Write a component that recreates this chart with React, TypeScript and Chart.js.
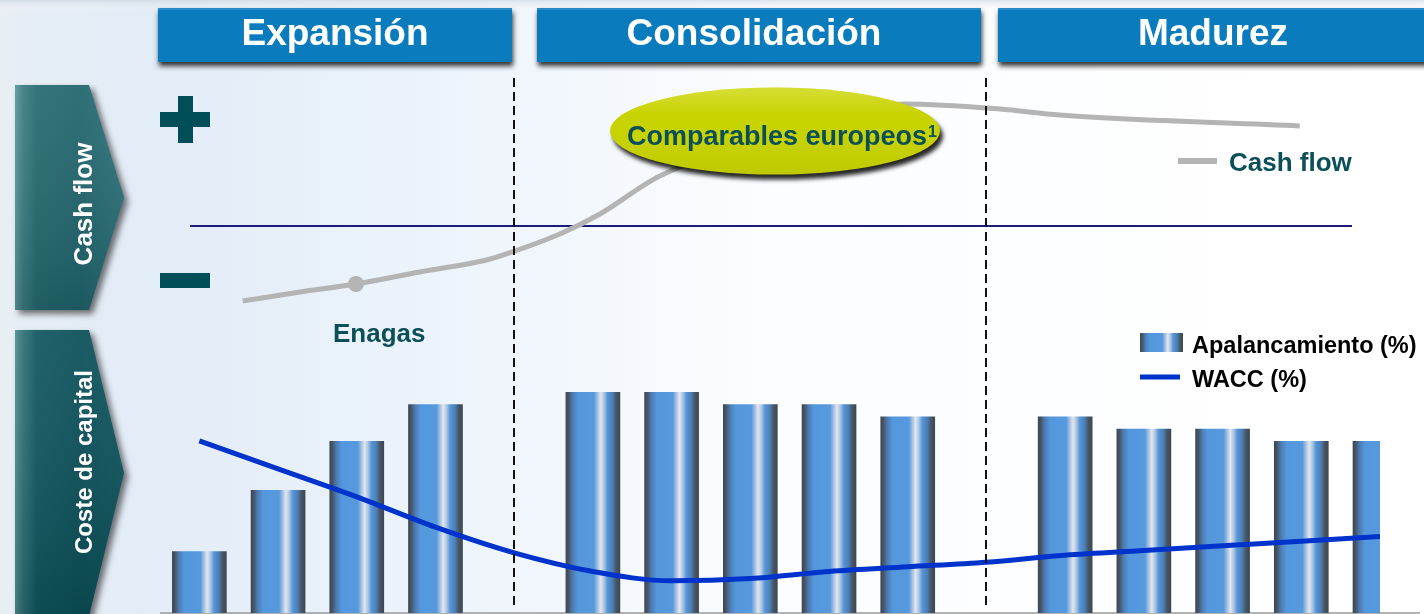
import React, { useEffect, useRef } from 'react';
import { Chart, registerables } from 'chart.js';

Chart.register(...registerables);

const W = 1424;
const H = 614;
const FONT = '"Liberation Sans", Arial, Helvetica, sans-serif';

// ---------- texts ----------
const phaseLabels = ['Expansión', 'Consolidación', 'Madurez'];
const rowLabels = ['Cash flow', 'Coste de capital'];
const legendCash = 'Cash flow';
const legendBars = 'Apalancamiento (%)';
const legendWacc = 'WACC (%)';
const enagasLabel = 'Enagas';
const peersLabel = 'Comparables europeos';
const peersNote = '1';

// ---------- data ----------
// periods along the life cycle (4 and 10 are the phase boundaries)
const barPeriods = [0, 1, 2, 3, 5, 6, 7, 8, 9, 11, 12, 13, 14, 15];
const apalancamiento = [25, 50, 70, 85, 90, 90, 85, 85, 80, 80, 75, 75, 70, 70];

const waccPeriods = [0, 1, 2, 3, 4, 5, 6, 7, 8, 9, 10, 11, 12, 13, 14, 15];
const wacc = [9.0, 8.4, 7.8, 7.15, 6.6, 6.2, 6.0, 6.05, 6.2, 6.3, 6.4, 6.55, 6.65, 6.75, 6.85, 6.95];

const cashPeriods = [0.55, 1.28, 1.99, 2.8, 3.65, 4.01, 4.58, 5.09, 5.85, 7.38, 8.97, 10.17, 10.93, 13.98];
const cashFlow = [-75, -66, -58, -46, -34, -25, -8, 12, 50, 91, 122, 117, 111, 100];
const enagasPoint = 2;

const phaseBreaks = [4, 10];

// ---------- styles ----------
const BAR_W = 54;
const BAR_STOPS: [number, string][] = [
  [0.0, '#3f474f'],
  [0.05, '#46556a'],
  [0.12, '#4d7aae'],
  [0.22, '#5397dd'],
  [0.52, '#5699dd'],
  [0.58, '#9dbde3'],
  [0.645, '#e4e6ec'],
  [0.71, '#a8c3e3'],
  [0.77, '#5596da'],
  [0.86, '#4c7fb6'],
  [0.93, '#465667'],
  [1.0, '#3f474f'],
];
const TEAL_TEXT = '#0b4f59';

function barGradient(ctx: CanvasRenderingContext2D, x0: number, w: number) {
  const g = ctx.createLinearGradient(x0, 0, x0 + w, 0);
  BAR_STOPS.forEach(([p, c]) => g.addColorStop(p, c));
  return g;
}

function panelPath(ctx: CanvasRenderingContext2D, top: number, bottom: number) {
  const tip = (top + bottom) / 2;
  ctx.beginPath();
  ctx.moveTo(15, top);
  ctx.lineTo(89, top);
  ctx.lineTo(124, tip);
  ctx.lineTo(89, bottom);
  ctx.lineTo(15, bottom);
  ctx.closePath();
}

function drawPanel(
  ctx: CanvasRenderingContext2D,
  top: number,
  bottom: number,
  stops: [number, string][],
  label: string,
  size: number,
  labelY: number
) {
  ctx.save();
  panelPath(ctx, top, bottom);
  ctx.shadowColor = 'rgba(0,0,0,0.55)';
  ctx.shadowBlur = 6;
  ctx.shadowOffsetX = 4;
  ctx.shadowOffsetY = 4;
  const g = ctx.createLinearGradient(15, 0, 124, 0);
  stops.forEach(([p, c]) => g.addColorStop(p, c));
  ctx.fillStyle = g;
  ctx.fill();
  ctx.restore();

  ctx.save();
  panelPath(ctx, top, bottom);
  ctx.clip();
  const v = ctx.createLinearGradient(0, top, 0, bottom);
  v.addColorStop(0, 'rgba(255,255,255,0.07)');
  v.addColorStop(1, 'rgba(0,0,0,0.12)');
  ctx.fillStyle = v;
  ctx.fillRect(0, top, 130, bottom - top);
  ctx.restore();

  ctx.save();
  ctx.translate(92, labelY);
  ctx.rotate(-Math.PI / 2);
  ctx.fillStyle = '#ffffff';
  ctx.font = `bold ${size}px ${FONT}`;
  ctx.textAlign = 'center';
  ctx.textBaseline = 'alphabetic';
  ctx.fillText(label, 0, 0);
  ctx.restore();
}

function drawHeader(ctx: CanvasRenderingContext2D, x1: number, x2: number, label: string, cx: number) {
  ctx.save();
  ctx.shadowColor = 'rgba(0,0,0,0.8)';
  ctx.shadowBlur = 5;
  ctx.shadowOffsetX = 1;
  ctx.shadowOffsetY = 4;
  ctx.fillStyle = '#0a7cbd';
  ctx.fillRect(x1, 8, x2 - x1, 54);
  ctx.restore();
  ctx.save();
  ctx.fillStyle = 'rgba(255,255,255,0.12)';
  ctx.fillRect(x1, 8, x2 - x1, 2);
  ctx.fillStyle = '#ffffff';
  ctx.font = `bold 37px ${FONT}`;
  ctx.textAlign = 'center';
  ctx.textBaseline = 'alphabetic';
  ctx.fillText(label, cx, 45);
  ctx.restore();
}

const decorPlugin = {
  id: 'decor',
  beforeDraw(chart: any) {
    const ctx: CanvasRenderingContext2D = chart.ctx;
    ctx.save();
    const bg = ctx.createLinearGradient(0, 0, W, 0);
    bg.addColorStop(0, '#e7eef4');
    bg.addColorStop(0.1, '#e2ecf7');
    bg.addColorStop(0.32, '#edf4fb');
    bg.addColorStop(0.55, '#fcfdff');
    bg.addColorStop(1, '#ffffff');
    ctx.fillStyle = bg;
    ctx.fillRect(0, 0, W, H);
    const top = ctx.createLinearGradient(0, 0, 0, 12);
    top.addColorStop(0, 'rgba(200,210,222,0.6)');
    top.addColorStop(1, 'rgba(255,255,255,0)');
    ctx.fillStyle = top;
    ctx.fillRect(0, 0, W, 12);
    ctx.restore();

    // phase headers
    drawHeader(ctx, 158, 512, phaseLabels[0], 335);
    drawHeader(ctx, 537, 981, phaseLabels[1], 754);
    drawHeader(ctx, 998, 1430, phaseLabels[2], 1213);

    // side panels
    drawPanel(
      ctx, 85, 310,
      [[0, '#5a979c'], [0.07, '#3b7d83'], [0.2, '#256970'], [0.6, '#1f646c'], [1, '#2b7078']],
      rowLabels[0], 26, 204
    );
    drawPanel(
      ctx, 330, 616,
      [[0, '#4f8c92'], [0.07, '#2f7077'], [0.2, '#10565f'], [0.6, '#0a4f58'], [1, '#0d535c']],
      rowLabels[1], 24, 462
    );

    // plus / minus
    ctx.save();
    ctx.fillStyle = '#004e58';
    ctx.fillRect(160, 112, 50, 15);
    ctx.fillRect(178, 96, 15, 47);
    ctx.fillRect(160, 273, 50, 15);
    ctx.restore();
  },
  beforeDatasetsDraw(chart: any) {
    const ctx: CanvasRenderingContext2D = chart.ctx;
    const yC = chart.scales.yC;
    const y0 = yC.getPixelForValue(0);
    ctx.save();
    ctx.strokeStyle = '#1c1c7c';
    ctx.lineWidth = 2;
    ctx.beginPath();
    ctx.moveTo(190, y0);
    ctx.lineTo(1352, y0);
    ctx.stroke();
    ctx.strokeStyle = '#9a9a9a';
    ctx.lineWidth = 1.5;
    ctx.beginPath();
    ctx.moveTo(160, 613);
    ctx.lineTo(1420, 613);
    ctx.stroke();
    ctx.restore();
  },
  afterDatasetsDraw(chart: any) {
    const ctx: CanvasRenderingContext2D = chart.ctx;
    const xs = chart.scales.x;

    // phase dividers
    ctx.save();
    ctx.strokeStyle = '#111111';
    ctx.lineWidth = 2;
    ctx.setLineDash([9, 5]);
    phaseBreaks.forEach((p) => {
      const px = Math.round(xs.getPixelForValue(p));
      ctx.beginPath();
      ctx.moveTo(px, 78);
      ctx.lineTo(px, 607);
      ctx.stroke();
    });
    ctx.restore();

    // callout ellipse
    ctx.save();
    ctx.shadowColor = 'rgba(0,0,0,0.85)';
    ctx.shadowBlur = 4;
    ctx.shadowOffsetX = 3;
    ctx.shadowOffsetY = 5;
    ctx.beginPath();
    ctx.ellipse(775, 131, 165, 43.5, 0, 0, Math.PI * 2);
    ctx.fillStyle = '#c8d300';
    ctx.fill();
    ctx.restore();
    ctx.save();
    ctx.beginPath();
    ctx.ellipse(775, 131, 165, 43.5, 0, 0, Math.PI * 2);
    ctx.clip();
    const hl = ctx.createLinearGradient(0, 88, 0, 175);
    hl.addColorStop(0, 'rgba(255,255,200,0.25)');
    hl.addColorStop(0.3, 'rgba(255,255,255,0)');
    hl.addColorStop(1, 'rgba(0,0,0,0.05)');
    ctx.fillStyle = hl;
    ctx.fillRect(600, 80, 360, 100);
    ctx.restore();

    ctx.save();
    ctx.fillStyle = TEAL_TEXT;
    ctx.font = `bold 27px ${FONT}`;
    const w1 = ctx.measureText(peersLabel).width;
    ctx.font = `bold 16px ${FONT}`;
    const w2 = ctx.measureText(peersNote).width;
    const left = 782 - (w1 + w2 + 1) / 2;
    ctx.textAlign = 'left';
    ctx.textBaseline = 'alphabetic';
    ctx.font = `bold 27px ${FONT}`;
    ctx.fillText(peersLabel, left, 145);
    ctx.font = `bold 16px ${FONT}`;
    ctx.fillText(peersNote, left + w1 + 1, 137);

    // Enagas label
    ctx.font = `bold 26px ${FONT}`;
    ctx.fillText(enagasLabel, 333, 342);

    // cash flow legend
    ctx.strokeStyle = '#b4b4b4';
    ctx.lineWidth = 6;
    ctx.beginPath();
    ctx.moveTo(1178, 161);
    ctx.lineTo(1217, 161);
    ctx.stroke();
    ctx.fillStyle = TEAL_TEXT;
    ctx.fillText(legendCash, 1229, 171);

    // bars / wacc legend
    ctx.fillStyle = barGradient(ctx, 1140, 43);
    ctx.fillRect(1140, 333, 43, 19);
    ctx.strokeStyle = '#0033cc';
    ctx.lineWidth = 5;
    ctx.beginPath();
    ctx.moveTo(1140, 377);
    ctx.lineTo(1180, 377);
    ctx.stroke();
    ctx.fillStyle = '#000000';
    ctx.font = `bold 23.5px ${FONT}`;
    ctx.fillText(legendBars, 1192, 353);
    ctx.fillText(legendWacc, 1192, 387);
    ctx.restore();
  },
};

export default function App() {
  const ref = useRef<HTMLCanvasElement | null>(null);

  useEffect(() => {
    if (!ref.current) return;
    const chart = new Chart(ref.current, {
      type: 'bar',
      data: {
        datasets: [
          {
            type: 'line',
            label: legendWacc,
            data: waccPeriods.map((x, i) => ({ x, y: wacc[i] })),
            yAxisID: 'yW',
            borderColor: '#0033cc',
            borderWidth: 5,
            pointRadius: 0,
            cubicInterpolationMode: 'monotone',
            clip: 0,
            order: 0,
          } as any,
          {
            type: 'line',
            label: legendCash,
            data: cashPeriods.map((x, i) => ({ x, y: cashFlow[i] })),
            yAxisID: 'yC',
            borderColor: '#b4b4b4',
            borderWidth: 5,
            pointRadius: cashFlow.map((_, i) => (i === enagasPoint ? 8 : 0)),
            pointBackgroundColor: '#b4b4b4',
            pointBorderWidth: 0,
            cubicInterpolationMode: 'monotone',
            order: 1,
          } as any,
          {
            type: 'bar',
            label: legendBars,
            data: barPeriods.map((x, i) => ({ x, y: apalancamiento[i] })),
            yAxisID: 'y',
            barThickness: BAR_W,
            borderWidth: 0,
            clip: 0,
            order: 2,
            backgroundColor: (c: any) => {
              const xs = c.chart.scales && c.chart.scales.x;
              if (!xs || c.type !== 'data' || !c.raw) return '#5599dd';
              const px = xs.getPixelForValue(c.raw.x);
              if (!Number.isFinite(px)) return '#5599dd';
              return barGradient(c.chart.ctx, px - BAR_W / 2, BAR_W);
            },
          } as any,
        ],
      },
      options: {
        responsive: false,
        devicePixelRatio: 1,
        animation: false,
        events: [],
        layout: { padding: { left: 160, right: 44, top: 0, bottom: 1 } },
        plugins: { legend: { display: false }, tooltip: { enabled: false } },
        scales: {
          x: { type: 'linear', min: -0.5, max: 15, offset: false, display: false, grid: { display: false } },
          y: { type: 'linear', min: 0, max: 250, display: false },
          yW: { type: 'linear', min: 5.31, max: 18.45, display: false },
          yC: { type: 'linear', min: -387, max: 226, display: false },
        },
      } as any,
      plugins: [decorPlugin as any],
    });
    return () => chart.destroy();
  }, []);

  return (
    <div style={{ position: 'absolute', left: 0, top: 0, width: W, height: H, overflow: 'hidden' }}>
      <canvas ref={ref} width={W} height={H} style={{ display: 'block' }} />
    </div>
  );
}
